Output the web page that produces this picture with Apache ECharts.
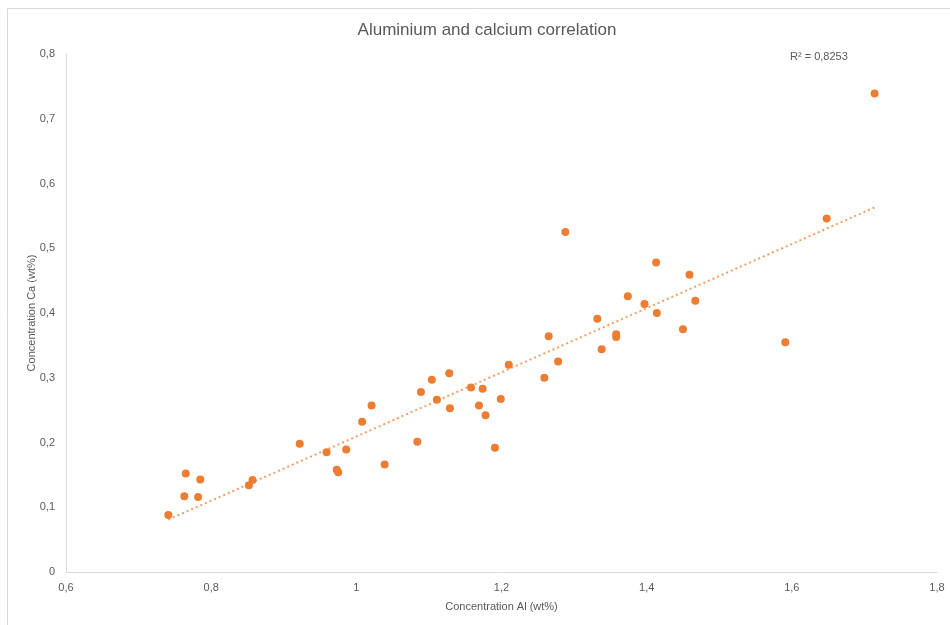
<!DOCTYPE html>
<html>
<head>
<meta charset="utf-8">
<script src="https://cdn.jsdelivr.net/npm/echarts@6/dist/echarts.min.js"></script>
<style>html,body{margin:0;padding:0;background:#fff}#c{width:950px;height:625px}</style>
</head>
<body>
<div id="c"></div>
<script>
const titleText = 'Aluminium and calcium correlation';
const xName = 'Concentration Al (wt%)';
const yName = 'Concentration Ca (wt%)';
const r2Text = 'R² = 0,8253';
const alValues = [0.741,0.765,0.785,0.763,0.782,0.852,0.857,0.922,0.959,0.986,0.973,0.975,1.008,1.021,1.039,1.084,1.089,1.104,1.111,1.128,1.129,1.158,1.169,1.174,1.178,1.191,1.199,1.210,1.259,1.265,1.278,1.288,1.332,1.338,1.358,1.358,1.374,1.397,1.413,1.414,1.450,1.459,1.467,1.591,1.648,1.714];
const caValues = [0.088,0.152,0.143,0.117,0.116,0.134,0.142,0.198,0.185,0.189,0.158,0.154,0.232,0.257,0.166,0.201,0.278,0.297,0.266,0.307,0.253,0.285,0.257,0.283,0.242,0.192,0.267,0.320,0.300,0.364,0.325,0.525,0.391,0.344,0.367,0.363,0.426,0.414,0.478,0.400,0.375,0.459,0.419,0.355,0.546,0.739];

const pts = alValues.map((x, i) => [x, caValues[i]]);
// least-squares linear trendline
const n = alValues.length;
const mx = alValues.reduce((a, b) => a + b, 0) / n;
const my = caValues.reduce((a, b) => a + b, 0) / n;
let sxy = 0, sxx = 0;
for (let i = 0; i < n; i++) { sxy += (alValues[i] - mx) * (caValues[i] - my); sxx += (alValues[i] - mx) ** 2; }
const slope = sxy / sxx, icpt = my - slope * mx;
const xMin = Math.min(...alValues), xMax = Math.max(...alValues);
const trend = [[xMin, icpt + slope * xMin], [xMax, icpt + slope * xMax]];

const fmt = v => String(Math.round(v * 10) / 10).replace('.', ',');
const font = '"Liberation Sans", Arial, sans-serif';
const chart = echarts.init(document.getElementById('c'));
chart.setOption({
  animation: false,
  textStyle: { fontFamily: font },
  title: { text: titleText, left: 482, top: 17, textAlign: 'center',
    textStyle: { fontSize: 17, fontWeight: 'normal', color: '#595959', fontFamily: font } },
  grid: { left: 66, right: 13, top: 54, bottom: 53 },
  xAxis: { type: 'value', min: 0.6, max: 1.8, interval: 0.2,
    name: xName, nameLocation: 'middle', nameGap: 29, nameMoveOverlap: false,
    nameTextStyle: { color: '#595959', fontSize: 11 },
    axisLine: { show: true, lineStyle: { color: '#d9d9d9', width: 1 } },
    axisTick: { show: false }, splitLine: { show: false },
    axisLabel: { color: '#595959', fontSize: 11, margin: 10, formatter: fmt } },
  yAxis: { type: 'value', min: 0, max: 0.8, interval: 0.1,
    name: yName, nameLocation: 'middle', nameGap: 29, nameRotate: 90, nameMoveOverlap: false,
    nameTextStyle: { color: '#595959', fontSize: 11 },
    axisLine: { show: true, lineStyle: { color: '#d9d9d9', width: 1 } },
    axisTick: { show: false }, splitLine: { show: false },
    axisLabel: { color: '#595959', fontSize: 11, margin: 11, formatter: fmt } },
  graphic: [
    { type: 'rect', left: 5, top: 6, shape: { width: 980, height: 660 }, silent: true, z: -10,
      style: { fill: 'none', stroke: '#d9d9d9', lineWidth: 1 } },
    { type: 'text', left: 790, top: 51, style: { text: r2Text, fill: '#595959', fontSize: 11, fontFamily: font } }
  ],
  series: [
    { type: 'line', data: trend, symbol: 'none', silent: true, z: 1,
      lineStyle: { color: '#ED7D31', opacity: 0.75, width: 2, type: [2, 3] } },
    { type: 'scatter', data: pts, symbolSize: 8, z: 2,
      itemStyle: { color: '#ED7D31', opacity: 1 } }
  ]
});
</script>
</body>
</html>
